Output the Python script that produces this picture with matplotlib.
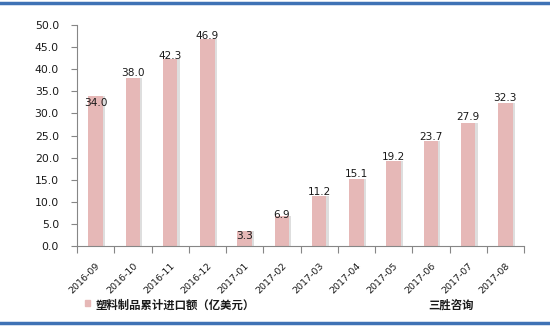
import matplotlib
matplotlib.use("Agg")
import matplotlib.pyplot as plt
from matplotlib.lines import Line2D

plt.rcParams['font.family'] = ['Noto Sans CJK SC', 'DejaVu Sans']

categories = ["2016-09", "2016-10", "2016-11", "2016-12", "2017-01", "2017-02",
              "2017-03", "2017-04", "2017-05", "2017-06", "2017-07", "2017-08"]
values = [34.0, 38.0, 42.3, 46.9, 3.3, 6.9, 11.2, 15.1, 19.2, 23.7, 27.9, 32.3]
legend_label = "塑料制品累计进口额（亿美元）"
source_label = "三胜咨询"
yticks = [0, 5, 10, 15, 20, 25, 30, 35, 40, 45, 50]

# label vertical nudges (points; positive = up), styling only
label_dy = [-5, 3.4, 2.2, 1.7, -3.6, 0.7, 3.4, 3.6, 2.9, 3.4, 4.3, 3.6]

W, H = 550, 328
fig = plt.figure(figsize=(W / 100, H / 100), dpi=100)
ax = fig.add_axes([77 / W, 1 - 246 / H, (524 - 77) / W, (246 - 25) / H])

x = list(range(len(categories)))
bw = 0.385
# shadow
ax.bar([i + 0.06 for i in x], values, width=bw, color="#dedede", zorder=1)
ax.bar(x, values, width=bw, color="#e6b8b7", zorder=2)

for i, v, dy in zip(x, values, label_dy):
    ax.annotate(f"{v:.1f}", (i, v), xytext=(0, dy), textcoords="offset points",
                ha="center", va="center", fontsize=7.6, color="#1a1a1a", zorder=3,
                family="DejaVu Sans")

ax.set_xlim(-0.5, len(categories) - 0.5)
ax.set_ylim(0, 50)
ax.set_yticks(yticks)
ax.set_yticklabels([f"{t:.1f}" for t in yticks], fontsize=7.8, family="DejaVu Sans",
                   color="#1a1a1a")
ax.set_xticks([i - 0.5 for i in range(len(categories) + 1)], minor=False)
ax.set_xticklabels([])
ax.set_xticks(x, minor=True)
ax.set_xticklabels(categories, minor=True, rotation=45, ha="right",
                   rotation_mode="anchor", fontsize=6.8, family="DejaVu Sans",
                   color="#1a1a1a")
ax.tick_params(axis="x", which="minor", length=0, pad=11)
ax.tick_params(axis="x", which="major", length=5, color="#868686", direction="out")
ax.tick_params(axis="y", length=4, color="#868686", direction="out", pad=9)

for s in ["top", "right"]:
    ax.spines[s].set_visible(False)
for s in ["left", "bottom"]:
    ax.spines[s].set_color("#868686")

# legend & source
fig.patches.append(plt.Rectangle((85 / W, 1 - 306 / H), 5 / W, 6 / H,
                                 transform=fig.transFigure, color="#e6b8b7"))
fig.text(95 / W, 1 - 305 / H, legend_label, fontsize=8.2, va="center", ha="left",
         fontweight="bold", color="#1a1a1a")
fig.text(428 / W, 1 - 305 / H, source_label, fontsize=8.2, va="center", ha="left",
         fontweight="bold", color="#1a1a1a")

# decorative blue lines
fig.add_artist(Line2D([0, 1], [1 - 3 / H, 1 - 3 / H], transform=fig.transFigure,
                      color="#3f72b5", lw=2.5))
fig.add_artist(Line2D([0, 1], [1 - 323 / H, 1 - 323 / H], transform=fig.transFigure,
                      color="#3f72b5", lw=2.5))

fig.savefig("out.png", dpi=100)
